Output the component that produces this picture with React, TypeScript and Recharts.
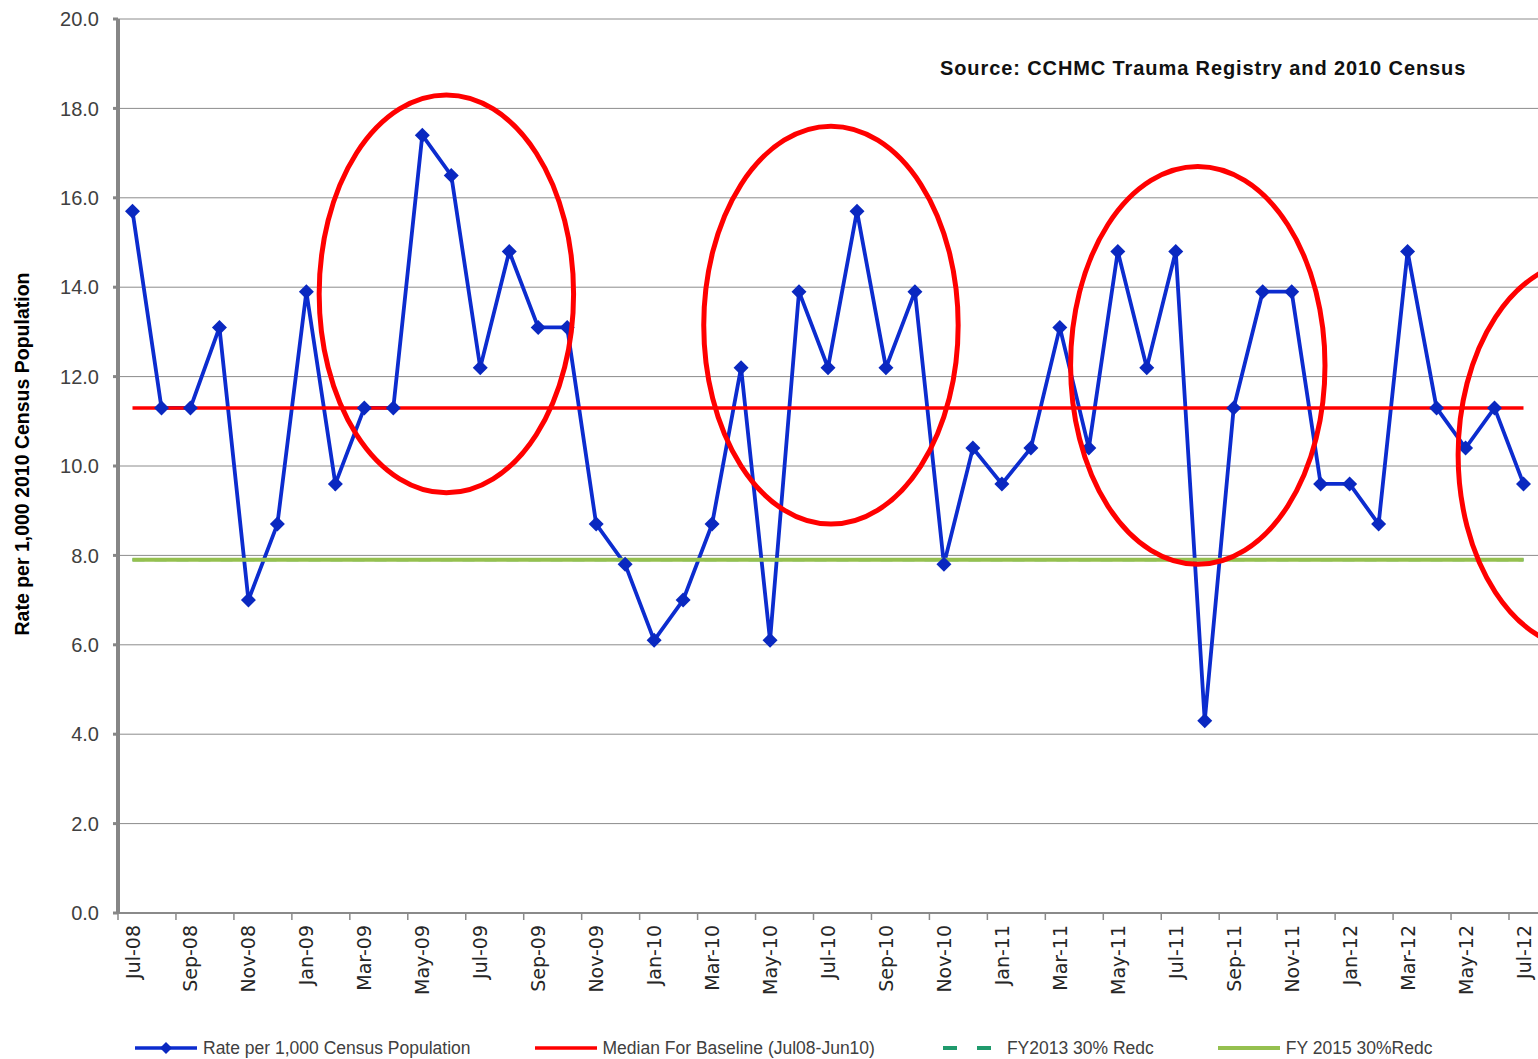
import React from "react";
import {
  LineChart,
  Line,
  XAxis,
  YAxis,
  CartesianGrid,
  Legend,
  ReferenceArea,
  Label,
} from "recharts";

// monthly injury rate, Jul-08 .. Jul-12
const months = [
  "Jul-08", "Aug-08", "Sep-08", "Oct-08", "Nov-08", "Dec-08",
  "Jan-09", "Feb-09", "Mar-09", "Apr-09", "May-09", "Jun-09",
  "Jul-09", "Aug-09", "Sep-09", "Oct-09", "Nov-09", "Dec-09",
  "Jan-10", "Feb-10", "Mar-10", "Apr-10", "May-10", "Jun-10",
  "Jul-10", "Aug-10", "Sep-10", "Oct-10", "Nov-10", "Dec-10",
  "Jan-11", "Feb-11", "Mar-11", "Apr-11", "May-11", "Jun-11",
  "Jul-11", "Aug-11", "Sep-11", "Oct-11", "Nov-11", "Dec-11",
  "Jan-12", "Feb-12", "Mar-12", "Apr-12", "May-12", "Jun-12",
  "Jul-12",
];

const rates = [
  15.7, 11.3, 11.3, 13.1, 7.0, 8.7,
  13.9, 9.6, 11.3, 11.3, 17.4, 16.5,
  12.2, 14.8, 13.1, 13.1, 8.7, 7.8,
  6.1, 7.0, 8.7, 12.2, 6.1, 13.9,
  12.2, 15.7, 12.2, 13.9, 7.8, 10.4,
  9.6, 10.4, 13.1, 10.4, 14.8, 12.2,
  14.8, 4.3, 11.3, 13.9, 13.9, 9.6,
  9.6, 8.7, 14.8, 11.3, 10.4, 11.3,
  9.6,
];

const baselineMedian = 11.3;
const fy2013Target = 7.9;
const fy2015Target = 7.9;

const yTicks = [0, 2, 4, 6, 8, 10, 12, 14, 16, 18, 20];

// red circles drawn on the slide, in month-index / rate units
const circleStartIdx = [6.8, 19.8, 32.2, 45.3];
const circleEndIdx = [15.4, 28.4, 40.8, 53.9];
const circleTop = [18.3, 17.6, 16.7, 14.6];
const circleBottom = [9.4, 8.7, 7.8, 5.9];

const legendLabels = [
  "Rate per 1,000 Census Population",
  "Median For Baseline (Jul08-Jun10)",
  "FY2013 30% Redc",
  "FY 2015 30%Redc",
];

const BLUE = "#0c2ccf";
const RED = "#ff0000";
const TEAL = "#1f9a6c";
const OLIVE = "#95c04f";
const legendColors = [BLUE, RED, TEAL, OLIVE];

const chartData = months.map((m, i) => ({
  month: m,
  rate: rates[i],
  median: baselineMedian,
  fy2013: fy2013Target,
  fy2015: fy2015Target,
}));

const FONT = "'Liberation Sans', Arial, sans-serif";
const HALF_STEP = 14.5; // half the spacing between months

const Diamond = (props: any) => {
  const { cx, cy, index } = props;
  if (cx == null || cy == null) return <g key={index} />;
  const r = 7.5;
  return (
    <polygon
      key={index}
      points={`${cx},${cy - r} ${cx + r},${cy} ${cx},${cy + r} ${cx - r},${cy}`}
      fill="#0a28c0"
    />
  );
};

const MonthTick = (props: any) => {
  const { x, y, payload } = props;
  return (
    <g>
      <line
        x1={x - HALF_STEP}
        x2={x - HALF_STEP}
        y1={y - 8}
        y2={y - 1}
        stroke="#8a8a8a"
        strokeWidth={1.5}
      />
      <text
        transform={`translate(${x},${y + 4}) rotate(-90)`}
        textAnchor="end"
        dominantBaseline="central"
        fontSize={19}
        fontFamily="'DejaVu Sans', sans-serif"
        fill="#262626"
      >
        {payload.value}
      </text>
    </g>
  );
};

const Ellipse = (props: any) => {
  const { x, y, width, height } = props;
  if (x == null) return null;
  return (
    <ellipse
      cx={x + width / 2}
      cy={y + height / 2}
      rx={width / 2}
      ry={height / 2}
      fill="none"
      stroke={RED}
      strokeWidth={5}
    />
  );
};

const LegendIcon = ({ i }: { i: number }) => (
  <svg width={62} height={14} style={{ marginRight: 6 }}>
    {i === 2 ? (
      <line x1={4} x2={52} y1={7} y2={7} stroke={TEAL} strokeWidth={4} strokeDasharray="14 20" />
    ) : (
      <line x1={0} x2={62} y1={7} y2={7} stroke={legendColors[i]} strokeWidth={i === 3 ? 4 : 3.5} />
    )}
    {i === 0 && <polygon points="31,1 37,7 31,13 25,7" fill="#0a28c0" />}
  </svg>
);

const ChartLegend = () => (
  <div
    style={{
      display: "flex",
      alignItems: "center",
      boxSizing: "border-box",
      paddingLeft: 135,
      paddingTop: 24,
      gap: 64,
      fontFamily: FONT,
      fontSize: 17.5,
      color: "#404040",
      height: 46,
    }}
  >
    {legendLabels.map((label, i) => (
      <div key={label} style={{ display: "flex", alignItems: "center", whiteSpace: "nowrap" }}>
        <LegendIcon i={i} />
        <span>{label}</span>
      </div>
    ))}
  </div>
);

const YTitle = (props: any) => {
  const { viewBox } = props;
  const cx = viewBox.x + 22;
  const cy = viewBox.y + viewBox.height / 2 - 12;
  return (
    <text
      transform={`translate(${cx},${cy}) rotate(-90)`}
      textAnchor="middle"
      dominantBaseline="central"
      fontSize={19.5}
      fontWeight="bold"
      fontFamily={FONT}
      fill="#000"
    >
      Rate per 1,000 2010 Census Population
    </text>
  );
};

export default function App() {
  return (
    <div style={{ position: "absolute", left: 0, top: 0, width: 1538, height: 1059, background: "#fff" }}>
      <LineChart
        width={1538}
        height={1059}
        data={chartData}
        margin={{ top: 19, right: 0, bottom: 0, left: 0 }}
      >
        <CartesianGrid vertical={false} stroke="#8c8c8c" strokeWidth={1} />
        <XAxis
          dataKey="month"
          height={100}
          interval={1}
          padding={{ left: HALF_STEP, right: HALF_STEP }}
          tick={<MonthTick />}
          tickLine={false}
          axisLine={{ stroke: "#8a8a8a", strokeWidth: 2 }}
        />
        <XAxis xAxisId="idx" type="number" domain={[-0.5, 48.5]} hide allowDataOverflow />
        <YAxis
          width={118}
          domain={[0, 20]}
          ticks={yTicks}
          interval={0}
          tickFormatter={(v: number) => v.toFixed(1)}
          tick={{ fontSize: 20, fill: "#404040", fontFamily: FONT }}
          tickLine={{ stroke: "#868686", strokeWidth: 3 }}
          tickSize={5}
          tickMargin={14}
          axisLine={{ stroke: "#868686", strokeWidth: 4 }}
        >
          <Label content={<YTitle />} />
        </YAxis>
        <Legend verticalAlign="bottom" content={() => <ChartLegend />} />
        <Line
          dataKey="rate"
          stroke={BLUE}
          strokeWidth={3.8}
          dot={<Diamond />}
          activeDot={false}
          isAnimationActive={false}
          legendType="none"
        />
        <Line dataKey="median" stroke={RED} strokeWidth={3.5} dot={false} activeDot={false} isAnimationActive={false} />
        <Line
          dataKey="fy2013"
          stroke={TEAL}
          strokeWidth={3}
          strokeDasharray="12 10"
          dot={false}
          activeDot={false}
          isAnimationActive={false}
        />
        <Line dataKey="fy2015" stroke={OLIVE} strokeWidth={4} dot={false} activeDot={false} isAnimationActive={false} />
        {circleStartIdx.map((s, i) => (
          <ReferenceArea
            key={i}
            xAxisId="idx"
            x1={s}
            x2={circleEndIdx[i]}
            y1={circleBottom[i]}
            y2={circleTop[i]}
            ifOverflow="visible"
            shape={<Ellipse />}
            zIndex={1500}
          />
        ))}
      </LineChart>
      <div
        style={{
          position: "absolute",
          left: 940,
          top: 57,
          fontFamily: FONT,
          fontWeight: "bold",
          fontSize: 20,
          letterSpacing: 0.9,
          color: "#111",
          whiteSpace: "nowrap",
        }}
      >
        Source: CCHMC Trauma Registry and 2010 Census
      </div>
    </div>
  );
}
